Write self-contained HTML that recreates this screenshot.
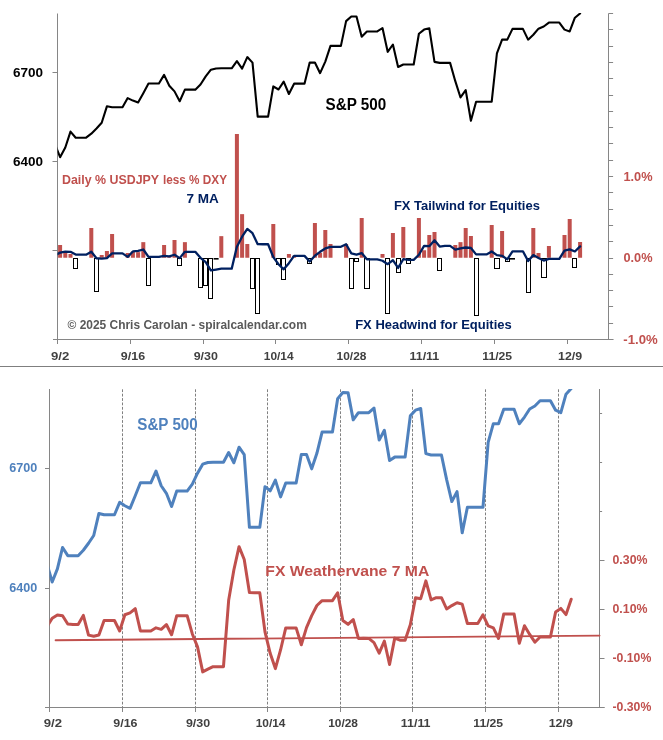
<!DOCTYPE html>
<html><head><meta charset="utf-8"><title>FX Weathervane</title>
<style>html,body{margin:0;padding:0;background:#fff;}body{width:663px;height:740px;overflow:hidden;font-family:"Liberation Sans",sans-serif;}</style>
</head><body>
<svg width="663" height="740" viewBox="0 0 663 740" style="display:block;will-change:transform;font-family:'Liberation Sans',sans-serif;font-weight:bold">
<rect width="663" height="740" fill="#fff"/>
<defs>
<clipPath id="ct"><rect x="57.5" y="13" width="551.0" height="326.5"/></clipPath>
<clipPath id="cb"><rect x="49.5" y="389.1" width="550.0" height="318.4"/></clipPath>
</defs>
<rect x="58.10" y="245.00" width="4" height="12.75" fill="#C0504D"/>
<rect x="63.30" y="252.75" width="4" height="5.00" fill="#C0504D"/>
<rect x="68.50" y="254.00" width="4" height="3.75" fill="#C0504D"/>
<rect x="73.5" y="258.5" width="4" height="10.0" fill="#fff" stroke="#000" stroke-width="1" shape-rendering="crispEdges"/>
<rect x="89.30" y="228.00" width="4" height="29.75" fill="#C0504D"/>
<rect x="94.5" y="258.5" width="4" height="33.0" fill="#fff" stroke="#000" stroke-width="1" shape-rendering="crispEdges"/>
<rect x="99.70" y="255.00" width="4" height="2.75" fill="#C0504D"/>
<rect x="104.90" y="251.00" width="4" height="6.75" fill="#C0504D"/>
<rect x="110.10" y="234.00" width="4" height="23.75" fill="#C0504D"/>
<rect x="125.70" y="253.00" width="4" height="4.75" fill="#C0504D"/>
<rect x="130.90" y="251.50" width="4" height="6.25" fill="#C0504D"/>
<rect x="136.10" y="252.15" width="4" height="5.60" fill="#C0504D"/>
<rect x="141.30" y="242.15" width="4" height="15.60" fill="#C0504D"/>
<rect x="146.5" y="258.5" width="4" height="27.0" fill="#fff" stroke="#000" stroke-width="1" shape-rendering="crispEdges"/>
<rect x="162.10" y="245.00" width="4" height="12.75" fill="#C0504D"/>
<rect x="167.30" y="256.25" width="4" height="1.50" fill="#C0504D"/>
<rect x="172.50" y="240.00" width="4" height="17.75" fill="#C0504D"/>
<rect x="177.5" y="258.5" width="4" height="7.0" fill="#fff" stroke="#000" stroke-width="1" shape-rendering="crispEdges"/>
<rect x="182.90" y="242.15" width="4" height="15.60" fill="#C0504D"/>
<rect x="198.5" y="258.5" width="4" height="29.0" fill="#fff" stroke="#000" stroke-width="1" shape-rendering="crispEdges"/>
<rect x="203.5" y="258.5" width="4" height="27.0" fill="#fff" stroke="#000" stroke-width="1" shape-rendering="crispEdges"/>
<rect x="208.5" y="258.5" width="4" height="40.0" fill="#fff" stroke="#000" stroke-width="1" shape-rendering="crispEdges"/>
<rect x="213.60" y="258.00" width="5" height="1.6" fill="#000"/>
<rect x="219.30" y="236.15" width="4" height="21.60" fill="#C0504D"/>
<rect x="234.90" y="134.00" width="4" height="123.75" fill="#C0504D"/>
<rect x="240.10" y="214.15" width="4" height="43.60" fill="#C0504D"/>
<rect x="245.30" y="244.00" width="4" height="13.75" fill="#C0504D"/>
<rect x="250.5" y="258.5" width="4" height="30.0" fill="#fff" stroke="#000" stroke-width="1" shape-rendering="crispEdges"/>
<rect x="255.5" y="258.5" width="4" height="55.0" fill="#fff" stroke="#000" stroke-width="1" shape-rendering="crispEdges"/>
<rect x="271.30" y="224.00" width="4" height="33.75" fill="#C0504D"/>
<rect x="276.5" y="258.5" width="4" height="6.0" fill="#fff" stroke="#000" stroke-width="1" shape-rendering="crispEdges"/>
<rect x="281.5" y="258.5" width="4" height="21.0" fill="#fff" stroke="#000" stroke-width="1" shape-rendering="crispEdges"/>
<rect x="286.90" y="254.00" width="4" height="3.75" fill="#C0504D"/>
<rect x="292.10" y="255.75" width="4" height="2.00" fill="#C0504D"/>
<rect x="307.5" y="258.5" width="4" height="5.0" fill="#fff" stroke="#000" stroke-width="1" shape-rendering="crispEdges"/>
<rect x="312.90" y="223.00" width="4" height="34.75" fill="#C0504D"/>
<rect x="318.10" y="252.75" width="4" height="5.00" fill="#C0504D"/>
<rect x="323.30" y="230.00" width="4" height="27.75" fill="#C0504D"/>
<rect x="328.50" y="244.00" width="4" height="13.75" fill="#C0504D"/>
<rect x="344.10" y="244.00" width="4" height="13.75" fill="#C0504D"/>
<rect x="349.5" y="258.5" width="4" height="30.0" fill="#fff" stroke="#000" stroke-width="1" shape-rendering="crispEdges"/>
<rect x="354.5" y="258.5" width="4" height="3.0" fill="#fff" stroke="#000" stroke-width="1" shape-rendering="crispEdges"/>
<rect x="359.70" y="218.00" width="4" height="39.75" fill="#C0504D"/>
<rect x="364.5" y="258.5" width="5" height="30.0" fill="#fff" stroke="#000" stroke-width="1" shape-rendering="crispEdges"/>
<rect x="380.50" y="254.00" width="4" height="3.75" fill="#C0504D"/>
<rect x="385.5" y="258.5" width="4" height="55.0" fill="#fff" stroke="#000" stroke-width="1" shape-rendering="crispEdges"/>
<rect x="390.90" y="233.00" width="4" height="24.75" fill="#C0504D"/>
<rect x="396.5" y="258.5" width="4" height="14.0" fill="#fff" stroke="#000" stroke-width="1" shape-rendering="crispEdges"/>
<rect x="401.30" y="227.00" width="4" height="30.75" fill="#C0504D"/>
<rect x="406.5" y="258.5" width="4" height="5.0" fill="#fff" stroke="#000" stroke-width="1" shape-rendering="crispEdges"/>
<rect x="416.90" y="218.00" width="4" height="39.75" fill="#C0504D"/>
<rect x="422.10" y="250.25" width="4" height="7.50" fill="#C0504D"/>
<rect x="427.30" y="235.00" width="4" height="22.75" fill="#C0504D"/>
<rect x="432.50" y="232.00" width="4" height="25.75" fill="#C0504D"/>
<rect x="437.5" y="258.5" width="4" height="12.0" fill="#fff" stroke="#000" stroke-width="1" shape-rendering="crispEdges"/>
<rect x="453.30" y="245.00" width="4" height="12.75" fill="#C0504D"/>
<rect x="458.50" y="242.15" width="4" height="15.60" fill="#C0504D"/>
<rect x="463.70" y="228.00" width="4" height="29.75" fill="#C0504D"/>
<rect x="468.90" y="236.00" width="4" height="21.75" fill="#C0504D"/>
<rect x="474.5" y="258.5" width="4" height="57.0" fill="#fff" stroke="#000" stroke-width="1" shape-rendering="crispEdges"/>
<rect x="489.70" y="225.00" width="4" height="32.75" fill="#C0504D"/>
<rect x="494.5" y="258.5" width="5" height="10.0" fill="#fff" stroke="#000" stroke-width="1" shape-rendering="crispEdges"/>
<rect x="500.10" y="231.00" width="4" height="26.75" fill="#C0504D"/>
<rect x="505.5" y="258.5" width="4" height="3.0" fill="#fff" stroke="#000" stroke-width="1" shape-rendering="crispEdges"/>
<rect x="510.00" y="258.00" width="5" height="1.6" fill="#000"/>
<rect x="526.5" y="258.5" width="4" height="34.0" fill="#fff" stroke="#000" stroke-width="1" shape-rendering="crispEdges"/>
<rect x="531.30" y="228.00" width="4" height="29.75" fill="#C0504D"/>
<rect x="536.50" y="253.00" width="4" height="4.75" fill="#C0504D"/>
<rect x="541.5" y="258.5" width="5" height="19.0" fill="#fff" stroke="#000" stroke-width="1" shape-rendering="crispEdges"/>
<rect x="546.90" y="246.00" width="4" height="11.75" fill="#C0504D"/>
<rect x="562.50" y="235.00" width="4" height="22.75" fill="#C0504D"/>
<rect x="567.70" y="219.00" width="4" height="38.75" fill="#C0504D"/>
<rect x="572.5" y="258.5" width="4" height="9.0" fill="#fff" stroke="#000" stroke-width="1" shape-rendering="crispEdges"/>
<rect x="578.10" y="242.00" width="4" height="15.75" fill="#C0504D"/>
<path d="M57.5 13.5V339.5" stroke="#868686" stroke-width="1" fill="none"/>
<path d="M53.0 339.5H613.5" stroke="#868686" stroke-width="1" fill="none"/>
<path d="M608.5 13.5V339.5" stroke="#868686" stroke-width="1" fill="none"/>
<path d="M52.5 250.50H57.5" stroke="#868686" stroke-width="1"/>
<path d="M52.5 161.50H57.5" stroke="#868686" stroke-width="1"/>
<path d="M52.5 72.50H57.5" stroke="#868686" stroke-width="1"/>
<path d="M608.5 339.50H613.1" stroke="#868686" stroke-width="1"/>
<path d="M608.5 323.50H613.1" stroke="#868686" stroke-width="1"/>
<path d="M608.5 306.50H613.1" stroke="#868686" stroke-width="1"/>
<path d="M608.5 290.50H613.1" stroke="#868686" stroke-width="1"/>
<path d="M608.5 274.50H613.1" stroke="#868686" stroke-width="1"/>
<path d="M608.5 258.50H613.1" stroke="#868686" stroke-width="1"/>
<path d="M608.5 241.50H613.1" stroke="#868686" stroke-width="1"/>
<path d="M608.5 225.50H613.1" stroke="#868686" stroke-width="1"/>
<path d="M608.5 209.50H613.1" stroke="#868686" stroke-width="1"/>
<path d="M608.5 192.50H613.1" stroke="#868686" stroke-width="1"/>
<path d="M608.5 176.50H613.1" stroke="#868686" stroke-width="1"/>
<path d="M608.5 160.50H613.1" stroke="#868686" stroke-width="1"/>
<path d="M608.5 143.50H613.1" stroke="#868686" stroke-width="1"/>
<path d="M608.5 127.50H613.1" stroke="#868686" stroke-width="1"/>
<path d="M608.5 111.50H613.1" stroke="#868686" stroke-width="1"/>
<path d="M608.5 95.50H613.1" stroke="#868686" stroke-width="1"/>
<path d="M608.5 78.50H613.1" stroke="#868686" stroke-width="1"/>
<path d="M608.5 62.50H613.1" stroke="#868686" stroke-width="1"/>
<path d="M608.5 46.50H613.1" stroke="#868686" stroke-width="1"/>
<path d="M608.5 29.50H613.1" stroke="#868686" stroke-width="1"/>
<path d="M608.5 13.50H613.1" stroke="#868686" stroke-width="1"/>
<path d="M57.50 339.5V344" stroke="#868686" stroke-width="1"/>
<path d="M130.50 339.5V344" stroke="#868686" stroke-width="1"/>
<path d="M203.50 339.5V344" stroke="#868686" stroke-width="1"/>
<path d="M275.50 339.5V344" stroke="#868686" stroke-width="1"/>
<path d="M348.50 339.5V344" stroke="#868686" stroke-width="1"/>
<path d="M421.50 339.5V344" stroke="#868686" stroke-width="1"/>
<path d="M494.50 339.5V344" stroke="#868686" stroke-width="1"/>
<path d="M567.50 339.5V344" stroke="#868686" stroke-width="1"/>
<polyline clip-path="url(#ct)" points="54.90,143.99 60.10,157.23 65.30,147.54 70.50,131.61 75.70,137.70 80.90,137.70 86.10,137.70 91.30,133.66 96.50,128.49 101.70,122.73 106.90,106.32 112.10,107.26 117.30,107.26 122.50,107.26 127.70,98.09 132.90,100.61 138.10,102.51 143.30,93.15 148.50,83.55 153.70,83.55 158.90,83.55 164.10,74.85 169.30,85.76 174.50,91.37 179.70,101.21 184.90,89.67 190.10,89.67 195.30,89.67 200.50,84.49 205.70,76.42 210.90,69.68 216.10,68.45 221.30,68.32 226.50,68.32 231.70,68.32 236.90,61.07 242.10,68.68 247.30,57.09 252.50,62.60 257.70,116.67 262.90,116.67 268.10,116.67 273.30,86.41 278.50,89.49 283.70,81.57 288.90,94.00 294.10,83.66 299.30,83.66 304.50,83.66 309.70,62.60 314.90,62.53 320.10,73.18 325.30,61.62 330.50,45.85 335.70,45.85 340.90,45.85 346.10,21.13 351.30,16.48 356.50,16.56 361.70,36.77 366.90,31.49 372.10,31.49 377.30,31.49 382.50,28.00 387.70,51.81 392.90,44.49 398.10,66.98 403.30,64.47 408.50,64.47 413.70,64.47 418.90,33.79 424.10,29.59 429.30,28.31 434.50,61.90 439.70,62.90 444.90,62.90 450.10,62.90 455.30,81.17 460.50,97.48 465.70,90.13 470.90,120.74 476.10,101.73 481.30,101.73 486.50,101.73 491.70,101.73 496.90,53.49 502.10,39.65 507.30,39.65 512.50,28.85 517.70,28.85 522.90,28.85 528.10,39.65 533.30,34.69 538.50,28.67 543.70,26.48 548.90,22.54 554.10,22.54 559.30,22.54 564.50,29.62 569.70,31.39 574.90,17.72 580.10,13.48" fill="none" stroke="#000" stroke-width="2.1" stroke-linejoin="round" stroke-linecap="round"/>
<polyline clip-path="url(#ct)" points="54.90,255.41 60.10,252.63 65.30,251.54 70.50,251.80 75.70,254.55 80.90,254.69 86.10,254.69 91.30,251.71 96.50,258.25 101.70,258.61 106.90,258.19 112.10,253.38 117.30,253.38 122.50,253.38 127.70,256.88 132.90,251.48 138.10,250.87 143.30,249.49 148.50,256.86 153.70,256.86 158.90,256.86 164.10,255.83 169.30,256.33 174.50,254.73 179.70,258.12 184.90,251.78 190.10,251.78 195.30,251.78 200.50,257.85 205.70,262.12 210.90,270.41 216.10,269.52 221.30,268.68 226.50,268.68 231.70,268.68 236.90,246.71 242.10,236.68 247.30,228.94 252.50,233.21 257.70,244.14 262.90,244.24 268.10,244.24 273.30,257.15 278.50,264.27 283.70,269.32 288.90,263.16 294.10,255.85 299.30,255.85 304.50,255.85 309.70,261.43 314.90,255.75 320.10,251.80 325.30,248.43 330.50,246.81 335.70,246.81 340.90,246.81 346.10,244.20 351.30,253.41 356.50,254.66 361.70,253.06 366.90,259.33 372.10,259.28 377.30,259.33 382.50,260.74 387.70,264.19 392.90,260.23 398.10,267.96 403.30,259.23 408.50,259.91 413.70,259.91 418.90,254.79 424.10,245.85 429.30,246.18 434.50,240.28 439.70,246.57 444.90,245.82 450.10,245.82 455.30,249.58 460.50,248.46 465.70,247.50 470.90,247.96 476.10,254.39 481.30,254.39 486.50,254.39 491.70,251.50 496.90,255.18 502.10,255.81 507.30,259.35 512.50,251.28 517.70,251.28 522.90,251.28 528.10,260.94 533.30,255.12 538.50,258.02 543.70,260.58 548.90,258.84 554.10,258.84 559.30,258.84 564.50,250.56 569.70,249.37 574.90,251.45 580.10,246.35" fill="none" stroke="#002060" stroke-width="2.3" stroke-linejoin="round" stroke-linecap="round"/>
<text x="13.1" y="76.7" font-size="12.2" fill="#000" text-anchor="start" textLength="30" lengthAdjust="spacingAndGlyphs">6700</text>
<text x="13.1" y="165.5" font-size="12.2" fill="#000" text-anchor="start" textLength="30" lengthAdjust="spacingAndGlyphs">6400</text>
<text x="325.5" y="109.6" font-size="15.6" fill="#000" text-anchor="start" textLength="60.75" lengthAdjust="spacingAndGlyphs">S&amp;P 500</text>
<text x="62" y="183.75" font-size="12.2" fill="#C0504D" text-anchor="start" textLength="97.1" lengthAdjust="spacingAndGlyphs">Daily % USDJPY</text>
<text x="162.9" y="183.75" font-size="12.2" fill="#C0504D" text-anchor="start" textLength="64.1" lengthAdjust="spacingAndGlyphs">less % DXY</text>
<text x="186.4" y="202.5" font-size="12.2" fill="#002060" text-anchor="start" textLength="32.3" lengthAdjust="spacingAndGlyphs">7 MA</text>
<text x="393.9" y="209.6" font-size="12.2" fill="#002060" text-anchor="start" textLength="146" lengthAdjust="spacingAndGlyphs">FX Tailwind for Equities</text>
<text x="355.2" y="328.75" font-size="12.2" fill="#002060" text-anchor="start" textLength="156.5" lengthAdjust="spacingAndGlyphs">FX Headwind for Equities</text>
<text x="67.5" y="328.75" font-size="12.6" fill="#595959" text-anchor="start" textLength="239.3" lengthAdjust="spacingAndGlyphs">© 2025 Chris Carolan - spiralcalendar.com</text>
<text x="623.4" y="180.6" font-size="12.6" fill="#C0504D" text-anchor="start" textLength="29.1" lengthAdjust="spacingAndGlyphs">1.0%</text>
<text x="623.4" y="262.0" font-size="12.6" fill="#C0504D" text-anchor="start" textLength="29.1" lengthAdjust="spacingAndGlyphs">0.0%</text>
<text x="623.3" y="344.0" font-size="12.6" fill="#C0504D" text-anchor="start" textLength="34.4" lengthAdjust="spacingAndGlyphs">-1.0%</text>
<text x="50.95" y="360.0" font-size="11.5" fill="#404040" text-anchor="start" textLength="18.3" lengthAdjust="spacingAndGlyphs">9/2</text>
<text x="120.86" y="360.0" font-size="11.5" fill="#404040" text-anchor="start" textLength="24.2" lengthAdjust="spacingAndGlyphs">9/16</text>
<text x="193.71" y="360.0" font-size="11.5" fill="#404040" text-anchor="start" textLength="24.2" lengthAdjust="spacingAndGlyphs">9/30</text>
<text x="263.77" y="360.0" font-size="11.5" fill="#404040" text-anchor="start" textLength="29.8" lengthAdjust="spacingAndGlyphs">10/14</text>
<text x="336.62" y="360.0" font-size="11.5" fill="#404040" text-anchor="start" textLength="29.8" lengthAdjust="spacingAndGlyphs">10/28</text>
<text x="409.48" y="360.0" font-size="11.5" fill="#404040" text-anchor="start" textLength="29.8" lengthAdjust="spacingAndGlyphs">11/11</text>
<text x="482.34" y="360.0" font-size="11.5" fill="#404040" text-anchor="start" textLength="29.8" lengthAdjust="spacingAndGlyphs">11/25</text>
<text x="557.99" y="360.0" font-size="11.5" fill="#404040" text-anchor="start" textLength="24.2" lengthAdjust="spacingAndGlyphs">12/9</text>
<path d="M0 366.45H663" stroke="#7f7f7f" stroke-width="1.1"/>
<path d="M122.50 389.3V707" stroke="#808080" stroke-width="1" stroke-dasharray="2.8 1.6"/>
<path d="M195.50 389.3V707" stroke="#808080" stroke-width="1" stroke-dasharray="2.8 1.6"/>
<path d="M267.50 389.3V707" stroke="#808080" stroke-width="1" stroke-dasharray="2.8 1.6"/>
<path d="M340.50 389.3V707" stroke="#808080" stroke-width="1" stroke-dasharray="2.8 1.6"/>
<path d="M412.50 389.3V707" stroke="#808080" stroke-width="1" stroke-dasharray="2.8 1.6"/>
<path d="M485.50 389.3V707" stroke="#808080" stroke-width="1" stroke-dasharray="2.8 1.6"/>
<path d="M558.50 389.3V707" stroke="#808080" stroke-width="1" stroke-dasharray="2.8 1.6"/>
<path d="M49.5 389V707.5" stroke="#868686" stroke-width="1" fill="none"/>
<path d="M45.0 707.5H604.5" stroke="#868686" stroke-width="1" fill="none"/>
<path d="M599.5 389V707.5" stroke="#868686" stroke-width="1" fill="none"/>
<path d="M45.0 588.50H49.5" stroke="#868686" stroke-width="1"/>
<path d="M45.0 468.50H49.5" stroke="#868686" stroke-width="1"/>
<path d="M599.5 707.50H604.5" stroke="#868686" stroke-width="1"/>
<path d="M599.5 658.50H604.5" stroke="#868686" stroke-width="1"/>
<path d="M599.5 609.50H604.5" stroke="#868686" stroke-width="1"/>
<path d="M599.5 560.50H604.5" stroke="#868686" stroke-width="1"/>
<path d="M599.5 511.50H602.1" stroke="#868686" stroke-width="1"/>
<path d="M599.5 462.50H602.1" stroke="#868686" stroke-width="1"/>
<path d="M599.5 413.50H602.1" stroke="#868686" stroke-width="1"/>
<path d="M49.50 707.5V712" stroke="#868686" stroke-width="1"/>
<path d="M122.50 707.5V712" stroke="#868686" stroke-width="1"/>
<path d="M195.50 707.5V712" stroke="#868686" stroke-width="1"/>
<path d="M267.50 707.5V712" stroke="#868686" stroke-width="1"/>
<path d="M340.50 707.5V712" stroke="#868686" stroke-width="1"/>
<path d="M412.50 707.5V712" stroke="#868686" stroke-width="1"/>
<path d="M485.50 707.5V712" stroke="#868686" stroke-width="1"/>
<path d="M558.50 707.5V712" stroke="#868686" stroke-width="1"/>
<path d="M55.6 640.3L599.5 635.6" stroke="#C0504D" stroke-width="1.9" fill="none" stroke-linecap="round"/>
<polyline clip-path="url(#cb)" points="47.01,626.60 52.20,618.20 57.39,614.90 62.58,615.70 67.77,624.00 72.96,624.40 78.15,624.40 83.34,615.42 88.53,635.15 93.72,636.24 98.91,634.99 104.10,620.47 109.29,620.47 114.48,620.47 119.67,631.01 124.86,614.73 130.05,612.87 135.24,608.71 140.43,630.97 145.62,630.97 150.81,630.97 156.00,627.84 161.19,629.36 166.38,624.54 171.57,634.78 176.76,615.63 181.95,615.63 187.14,615.63 192.33,633.95 197.52,646.85 202.71,671.88 207.90,669.18 213.09,666.63 218.28,666.63 223.47,666.63 228.66,600.33 233.85,570.05 239.04,546.66 244.23,559.55 249.42,592.56 254.61,592.86 259.80,592.86 264.99,631.84 270.18,653.34 275.37,668.59 280.56,649.97 285.75,627.91 290.94,627.91 296.13,627.91 301.32,644.76 306.51,627.62 311.70,615.69 316.89,605.51 322.08,600.63 327.27,600.63 332.46,600.63 337.65,592.74 342.84,620.55 348.03,624.33 353.22,619.49 358.41,638.42 363.60,638.27 368.79,638.42 373.98,642.68 379.17,653.09 384.36,641.15 389.55,664.47 394.74,638.12 399.93,640.18 405.12,640.18 410.31,624.72 415.50,597.72 420.69,598.70 425.88,580.90 431.07,599.88 436.26,597.63 441.45,597.63 446.64,609.00 451.83,605.60 457.02,602.69 462.21,604.10 467.40,623.49 472.59,623.49 477.78,623.49 482.97,614.78 488.16,625.89 493.35,627.79 498.54,638.49 503.73,614.12 508.92,614.12 514.11,614.12 519.30,643.28 524.49,625.71 529.68,634.45 534.87,642.20 540.06,636.95 545.25,636.95 550.44,636.95 555.63,611.95 560.82,608.36 566.01,614.64 571.20,599.23" fill="none" stroke="#C0504D" stroke-width="3" stroke-linejoin="round" stroke-linecap="round"/>
<polyline clip-path="url(#cb)" points="47.01,564.14 52.20,581.96 57.39,568.92 62.58,547.47 67.77,555.67 72.96,555.67 78.15,555.67 83.34,550.23 88.53,543.27 93.72,535.53 98.91,513.44 104.10,514.71 109.29,514.71 114.48,514.71 119.67,502.36 124.86,505.76 130.05,508.31 135.24,495.71 140.43,482.80 145.62,482.80 150.81,482.80 156.00,471.09 161.19,485.77 166.38,493.32 171.57,506.57 176.76,491.04 181.95,491.04 187.14,491.04 192.33,484.06 197.52,473.20 202.71,464.14 207.90,462.48 213.09,462.31 218.28,462.31 223.47,462.31 228.66,452.55 233.85,462.79 239.04,447.19 244.23,454.61 249.42,527.37 254.61,527.37 259.80,527.37 264.99,486.64 270.18,490.79 275.37,480.13 280.56,496.87 285.75,482.94 290.94,482.94 296.13,482.94 301.32,454.60 306.51,454.51 311.70,468.84 316.89,453.28 322.08,432.06 327.27,432.06 332.46,432.06 337.65,398.80 342.84,392.53 348.03,392.65 353.22,419.85 358.41,412.73 363.60,412.73 368.79,412.73 373.98,408.04 379.17,440.09 384.36,430.23 389.55,460.50 394.74,457.12 399.93,457.12 405.12,457.12 410.31,415.83 415.50,410.18 420.69,408.46 425.88,453.66 431.07,455.01 436.26,455.01 441.45,455.01 446.64,479.59 451.83,501.55 457.02,491.65 462.21,532.85 467.40,507.26 472.59,507.26 477.78,507.26 482.97,507.26 488.16,442.35 493.35,423.72 498.54,423.72 503.73,409.19 508.92,409.19 514.11,409.19 519.30,423.72 524.49,417.05 529.68,408.94 534.87,405.99 540.06,400.70 545.25,400.70 550.44,400.70 555.63,410.22 560.82,412.61 566.01,394.21 571.20,388.50" fill="none" stroke="#4F81BD" stroke-width="3" stroke-linejoin="round" stroke-linecap="round"/>
<text x="9.3" y="472.2" font-size="12.2" fill="#4F81BD" text-anchor="start" textLength="28" lengthAdjust="spacingAndGlyphs">6700</text>
<text x="9.3" y="591.7" font-size="12.2" fill="#4F81BD" text-anchor="start" textLength="28" lengthAdjust="spacingAndGlyphs">6400</text>
<text x="137.3" y="430" font-size="16.0" fill="#4F81BD" text-anchor="start" textLength="60.4" lengthAdjust="spacingAndGlyphs">S&amp;P 500</text>
<text x="265.3" y="575.7" font-size="15.0" fill="#C0504D" text-anchor="start" textLength="164" lengthAdjust="spacingAndGlyphs">FX Weathervane 7 MA</text>
<text x="612.5" y="564.10" font-size="12.6" fill="#C0504D" text-anchor="start" textLength="35" lengthAdjust="spacingAndGlyphs">0.30%</text>
<text x="612.5" y="613.10" font-size="12.6" fill="#C0504D" text-anchor="start" textLength="35" lengthAdjust="spacingAndGlyphs">0.10%</text>
<text x="612.5" y="662.10" font-size="12.6" fill="#C0504D" text-anchor="start" textLength="38.8" lengthAdjust="spacingAndGlyphs">-0.10%</text>
<text x="612.5" y="711.10" font-size="12.6" fill="#C0504D" text-anchor="start" textLength="38.8" lengthAdjust="spacingAndGlyphs">-0.30%</text>
<text x="43.75" y="727.2" font-size="11.5" fill="#404040" text-anchor="start" textLength="18.3" lengthAdjust="spacingAndGlyphs">9/2</text>
<text x="113.35" y="727.2" font-size="11.5" fill="#404040" text-anchor="start" textLength="24.2" lengthAdjust="spacingAndGlyphs">9/16</text>
<text x="185.90" y="727.2" font-size="11.5" fill="#404040" text-anchor="start" textLength="24.2" lengthAdjust="spacingAndGlyphs">9/30</text>
<text x="255.65" y="727.2" font-size="11.5" fill="#404040" text-anchor="start" textLength="29.8" lengthAdjust="spacingAndGlyphs">10/14</text>
<text x="328.20" y="727.2" font-size="11.5" fill="#404040" text-anchor="start" textLength="29.8" lengthAdjust="spacingAndGlyphs">10/28</text>
<text x="400.75" y="727.2" font-size="11.5" fill="#404040" text-anchor="start" textLength="29.8" lengthAdjust="spacingAndGlyphs">11/11</text>
<text x="473.30" y="727.2" font-size="11.5" fill="#404040" text-anchor="start" textLength="29.8" lengthAdjust="spacingAndGlyphs">11/25</text>
<text x="548.65" y="727.2" font-size="11.5" fill="#404040" text-anchor="start" textLength="24.2" lengthAdjust="spacingAndGlyphs">12/9</text>
</svg>
</body></html>
